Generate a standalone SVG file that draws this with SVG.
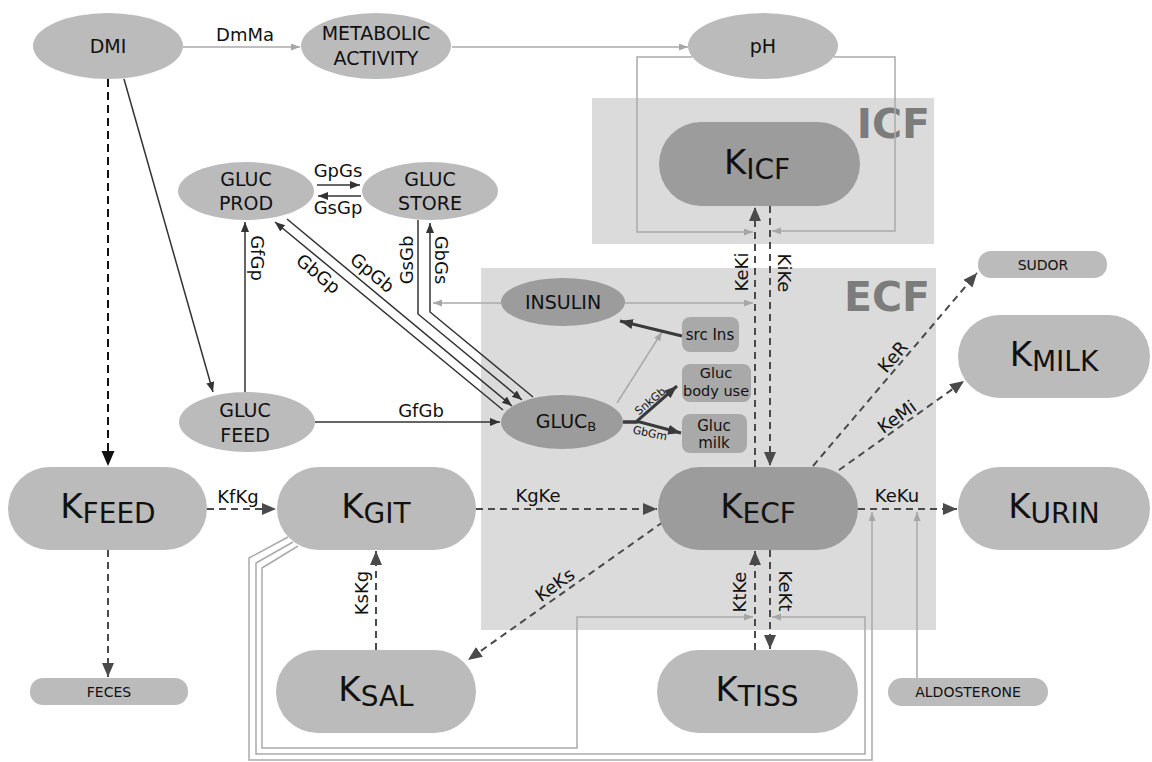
<svg xmlns="http://www.w3.org/2000/svg" width="1152" height="762" viewBox="0 0 1152 762">
<defs>
<marker id="ad" markerUnits="userSpaceOnUse" markerWidth="15" markerHeight="13" refX="14" refY="6" orient="auto"><path d="M0,0 L14,6 L0,12 z" fill="#4a4a4a"/></marker>
<marker id="ak" markerUnits="userSpaceOnUse" markerWidth="16" markerHeight="14" refX="15" refY="6.5" orient="auto"><path d="M0,0 L15,6.5 L0,13 z" fill="#111"/></marker>
<marker id="al" markerUnits="userSpaceOnUse" markerWidth="10" markerHeight="8" refX="9" refY="3.5" orient="auto"><path d="M0,0 L9,3.5 L0,7 z" fill="#a6a6a6"/></marker>
<marker id="as" markerUnits="userSpaceOnUse" markerWidth="11" markerHeight="9" refX="10" refY="4" orient="auto"><path d="M0,0 L10,4 L0,8 z" fill="#333"/></marker>
<marker id="at" markerUnits="userSpaceOnUse" markerWidth="14" markerHeight="11" refX="13" refY="5" orient="auto"><path d="M0,0 L13,5 L0,10 z" fill="#3a3a3a"/></marker>
</defs>
<style>
text{font-family:"DejaVu Sans","Liberation Sans",sans-serif;fill:#111}
.lt{fill:#bbbbbb}
.dk{fill:#9c9c9c}
.md{fill:#a9a9a9}
.n{font-size:19px}
.lb{font-size:18px}
.sm{font-size:14px}
.xs{font-size:11px}
.k{font-size:34px}
.box{fill:#dbdbdb}
.big{font-size:41px;font-weight:bold;fill:#7c7c7c}
.dash{stroke:#4a4a4a;stroke-width:2;stroke-dasharray:7 5;fill:none}
.dashk{stroke:#111;stroke-width:2;stroke-dasharray:8 5;fill:none}
.sol{stroke:#333;stroke-width:1.5;fill:none}
.lg{stroke:#aaaaaa;stroke-width:1.5;fill:none}
.thk{stroke:#3a3a3a;stroke-width:3;fill:none}
</style>
<rect width="1152" height="762" fill="#ffffff"/>
<g id="compartments">
<rect class="box" x="592" y="98" width="342" height="146"/>
<text class="big" x="930" y="138" text-anchor="end">ICF</text>
<rect class="box" x="481" y="268" width="455" height="362"/>
<text class="big" x="930" y="311" text-anchor="end">ECF</text>
</g>
<g id="connectors">
<path class="lg" d="M183,47 H300" marker-end="url(#al)"/>
<path class="lg" d="M452,47 H688" marker-end="url(#al)"/>
<path class="lg" d="M692,57 H637 V232 H753" marker-end="url(#al)"/>
<path class="lg" d="M834,57 H895 V231 H772" marker-end="url(#al)"/>
<path class="lg" d="M502,303 H433" marker-end="url(#al)"/>
<path class="lg" d="M624,303 H753" marker-end="url(#al)"/>
<path class="lg" d="M617,403 L662,332" marker-end="url(#al)"/>
<path class="lg" d="M288,537 L249,558 V760 H872 V512" marker-end="url(#al)"/>
<path class="lg" d="M293,542 L256,563 V754 H865 V617 H772" marker-end="url(#al)"/>
<path class="lg" d="M298,546 L262,568 V748 H577 V617 H753" marker-end="url(#al)"/>
<path class="lg" d="M917,678 V512" marker-end="url(#al)"/>

<path class="sol" d="M124,79 L213,392" marker-end="url(#as)"/>
<path class="sol" d="M245,392 V222" marker-end="url(#as)"/>
<path class="sol" d="M315,422 H500" marker-end="url(#as)"/>
<path class="sol" d="M317,185 H360" marker-end="url(#as)"/>
<path class="sol" d="M361,196 H318" marker-end="url(#as)"/>
<path class="sol" d="M503,410 L275,222" marker-end="url(#as)"/>
<path class="sol" d="M287,219 L512,406" marker-end="url(#as)"/>
<path class="sol" d="M418,220 V314 L522,400" marker-end="url(#as)"/>
<path class="sol" d="M533,397 L430,312 V223" marker-end="url(#as)"/>

<path class="thk" d="M682,336 L620,321" marker-end="url(#at)"/>
<path class="thk" d="M623,422 H636 L677,386" marker-end="url(#at)"/>
<path class="thk" d="M623,422 H640 L681,433" marker-end="url(#at)"/>

<path class="dashk" d="M108,79 V466" marker-end="url(#ak)"/>
<path class="dash" d="M108,550 V677" marker-end="url(#ad)"/>
<path class="dash" d="M207,509 H276" marker-end="url(#ad)"/>
<path class="dash" d="M476,509 H657" marker-end="url(#ad)"/>
<path class="dash" d="M858,509 H957" marker-end="url(#ad)"/>
<path class="dash" d="M376,650 V551" marker-end="url(#ad)"/>
<path class="dash" d="M663,522 L468,660" marker-end="url(#ad)"/>
<path class="dash" d="M755,467 V207" marker-end="url(#ad)"/>
<path class="dash" d="M770,206 V466" marker-end="url(#ad)"/>
<path class="dash" d="M755,650 V551" marker-end="url(#ad)"/>
<path class="dash" d="M770,550 V649" marker-end="url(#ad)"/>
<path class="dash" d="M813,466 L977,273" marker-end="url(#ad)"/>
<path class="dash" d="M839,470 L964,381" marker-end="url(#ad)"/>

<text class="lb" x="245" y="41" text-anchor="middle">DmMa</text>
<text class="lb" x="338" y="177" text-anchor="middle">GpGs</text>
<text class="lb" x="338" y="214" text-anchor="middle">GsGp</text>
<text class="lb" x="421" y="417" text-anchor="middle">GfGb</text>
<text class="lb" x="238" y="503" text-anchor="middle">KfKg</text>
<text class="lb" x="538" y="502" text-anchor="middle">KgKe</text>
<text class="lb" x="897" y="502" text-anchor="middle">KeKu</text>
<text class="lb" transform="translate(257,258) rotate(90)" x="0" y="6" text-anchor="middle">GfGp</text>
<text class="lb" transform="translate(318,274) rotate(39.7)" x="0" y="6" text-anchor="middle">GbGp</text>
<text class="lb" transform="translate(372,273) rotate(39.7)" x="0" y="6" text-anchor="middle">GpGb</text>
<text class="lb" transform="translate(407,260) rotate(-90)" x="0" y="6" text-anchor="middle">GsGb</text>
<text class="lb" transform="translate(441,260) rotate(90)" x="0" y="6" text-anchor="middle">GbGs</text>
<text class="lb" transform="translate(742,272) rotate(-90)" x="0" y="6" text-anchor="middle">KeKi</text>
<text class="lb" transform="translate(784,273) rotate(90)" x="0" y="6" text-anchor="middle">KiKe</text>
<text class="lb" transform="translate(740,592) rotate(-90)" x="0" y="6" text-anchor="middle">KtKe</text>
<text class="lb" transform="translate(785,591) rotate(90)" x="0" y="6" text-anchor="middle">KeKt</text>
<text class="lb" transform="translate(362,593) rotate(-90)" x="0" y="6" text-anchor="middle">KsKg</text>
<text class="lb" transform="translate(555,585) rotate(-35.6)" x="0" y="6" text-anchor="middle">KeKs</text>
<text class="lb" transform="translate(893,357) rotate(-49.5)" x="0" y="6" text-anchor="middle">KeR</text>
<text class="lb" transform="translate(897,417) rotate(-35.5)" x="0" y="6" text-anchor="middle">KeMi</text>
<text class="xs" transform="translate(650,401) rotate(-40)" x="0" y="4" text-anchor="middle">SnkGb</text>
<text class="xs" transform="translate(650,433) rotate(12)" x="0" y="4" text-anchor="middle">GbGm</text>
</g>
<g id="DMI"><ellipse class="lt" cx="108" cy="46" rx="75" ry="33"/><text class="n" x="108" y="53" text-anchor="middle">DMI</text></g>
<g id="METABOLIC"><ellipse class="lt" cx="376" cy="46" rx="75" ry="33"/><text class="n" x="376" y="40" text-anchor="middle">METABOLIC</text><text class="n" x="376" y="65" text-anchor="middle">ACTIVITY</text></g>
<g id="pH"><ellipse class="lt" cx="763" cy="46" rx="75" ry="33"/><text class="n" x="763" y="53" text-anchor="middle">pH</text></g>
<g id="GLUC_PROD"><ellipse class="lt" cx="246" cy="191" rx="68" ry="29"/><text class="n" x="246" y="186" text-anchor="middle">GLUC</text><text class="n" x="246" y="210" text-anchor="middle">PROD</text></g>
<g id="GLUC_STORE"><ellipse class="lt" cx="430" cy="191" rx="68" ry="29"/><text class="n" x="430" y="186" text-anchor="middle">GLUC</text><text class="n" x="430" y="210" text-anchor="middle">STORE</text></g>
<g id="GLUC_FEED"><ellipse class="lt" cx="247" cy="422" rx="68" ry="30"/><text class="n" x="245" y="417" text-anchor="middle">GLUC</text><text class="n" x="245" y="442" text-anchor="middle">FEED</text></g>
<g id="GLUC_B"><ellipse class="dk" cx="562" cy="422" rx="61" ry="27"/><text class="n" x="566" y="428" text-anchor="middle">GLUC<tspan font-size="13" dy="3">B</tspan></text></g>
<g id="INSULIN"><ellipse class="dk" cx="563" cy="302" rx="62" ry="24"/><text class="n" x="563" y="309" text-anchor="middle">INSULIN</text></g>
<g id="src_Ins"><rect class="md" x="682" y="317" width="57" height="35" rx="8"/><text x="710" y="340" font-size="15" text-anchor="middle">src Ins</text></g>
<g id="Gluc_body_use"><rect class="md" x="682" y="364" width="69" height="38" rx="8"/><text x="716" y="378" font-size="14.5" text-anchor="middle">Gluc</text><text x="716" y="396" font-size="14.5" text-anchor="middle">body use</text></g>
<g id="Gluc_milk"><rect class="md" x="682" y="414" width="65" height="39" rx="8"/><text x="714" y="431" font-size="15" text-anchor="middle">Gluc</text><text x="714" y="448" font-size="15" text-anchor="middle">milk</text></g>
<g id="FECES"><rect class="lt" x="30" y="678" width="158" height="27" rx="13"/><text class="sm" x="109" y="697" text-anchor="middle">FECES</text></g>
<g id="SUDOR"><rect class="lt" x="978" y="251" width="129" height="27" rx="13"/><text class="sm" x="1043" y="270" text-anchor="middle">SUDOR</text></g>
<g id="ALDOSTERONE"><rect class="lt" x="888" y="678" width="160" height="28" rx="14"/><text class="sm" x="968" y="697" text-anchor="middle">ALDOSTERONE</text></g>
<g id="K_ICF"><rect class="dk" x="659" y="122" width="201" height="84" rx="42"/><text class="k" x="757" y="174" text-anchor="middle">K<tspan font-size="28" dy="5">ICF</tspan></text></g>
<g id="K_ECF"><rect class="dk" x="658" y="467" width="200" height="83" rx="41.5"/><text class="k" x="758" y="518" text-anchor="middle">K<tspan font-size="28" dy="5">ECF</tspan></text></g>
<g id="K_FEED"><rect class="lt" x="8" y="467" width="199" height="83" rx="41.5"/><text class="k" x="108" y="518" text-anchor="middle">K<tspan font-size="28" dy="5">FEED</tspan></text></g>
<g id="K_GIT"><rect class="lt" x="277" y="467" width="199" height="83" rx="41.5"/><text class="k" x="376" y="518" text-anchor="middle">K<tspan font-size="28" dy="5">GIT</tspan></text></g>
<g id="K_SAL"><rect class="lt" x="276" y="650" width="200" height="83" rx="41.5"/><text class="k" x="376" y="701" text-anchor="middle">K<tspan font-size="28" dy="5">SAL</tspan></text></g>
<g id="K_TISS"><rect class="lt" x="657" y="650" width="201" height="83" rx="41.5"/><text class="k" x="757" y="701" text-anchor="middle">K<tspan font-size="28" dy="5">TISS</tspan></text></g>
<g id="K_MILK"><rect class="lt" x="958" y="315" width="192" height="83" rx="41.5"/><text class="k" x="1054" y="366" text-anchor="middle">K<tspan font-size="28" dy="5">MILK</tspan></text></g>
<g id="K_URIN"><rect class="lt" x="958" y="467" width="192" height="83" rx="41.5"/><text class="k" x="1054" y="518" text-anchor="middle">K<tspan font-size="28" dy="5">URIN</tspan></text></g>
</svg>
